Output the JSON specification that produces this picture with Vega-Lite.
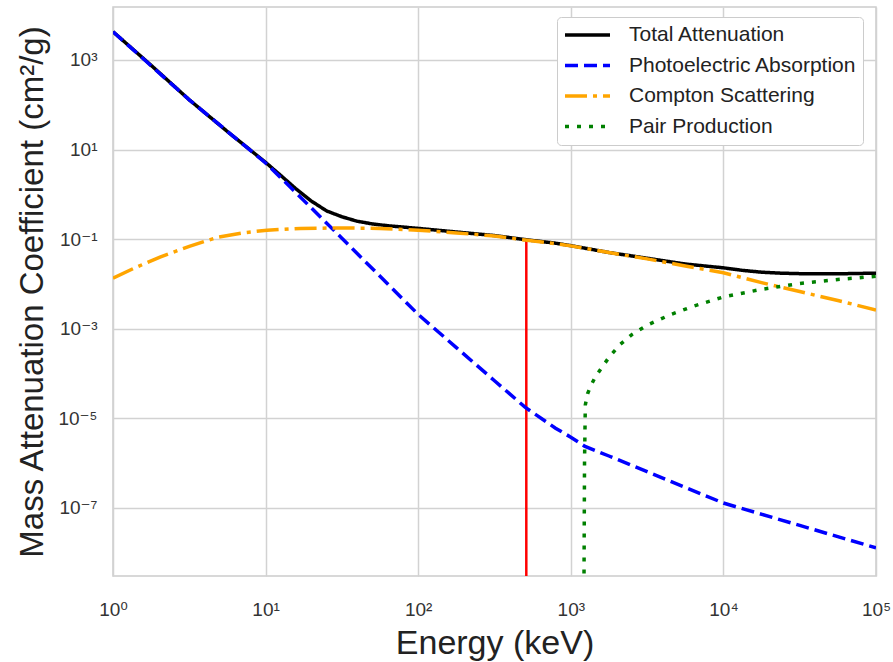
{
  "$schema": "https://vega.github.io/schema/vega-lite/v6.json",
  "autosize": {"type": "none"},
  "width": 763,
  "height": 569,
  "padding": {"left": 113, "top": 7, "right": 17, "bottom": 86},
  "background": "white",
  "config": {
    "font": "Liberation Sans, Arial, DejaVu Sans, sans-serif",
    "view": {"stroke": "#cccccc", "strokeWidth": 1.5},
    "axis": {
      "labelFont": "Liberation Sans, Arial, DejaVu Sans, sans-serif",
      "titleFont": "Liberation Sans, Arial, DejaVu Sans, sans-serif",
      "labelFontSize": 19,
      "labelColor": "#333333",
      "titleFontSize": 34,
      "titleFontWeight": "normal",
      "titleColor": "#222222",
      "grid": true,
      "gridColor": "#d2d2d2",
      "gridWidth": 1.5,
      "domain": false,
      "ticks": false,
      "tickSize": 0
    },
    "legend": {
      "orient": "none",
      "legendX": 444,
      "legendY": 10,
      "fillColor": "white",
      "strokeColor": "#cccccc",
      "cornerRadius": 4,
      "padding": 6,
      "labelFont": "Liberation Sans, Arial, DejaVu Sans, sans-serif",
      "labelFontSize": 21,
      "labelColor": "#222222",
      "symbolType": "stroke",
      "symbolStrokeWidth": 3.5,
      "symbolSize": 2025,
      "labelOffset": 17,
      "clipHeight": 24,
      "rowPadding": 6.5,
      "labelLimit": 400
    }
  },
  "datasets": {
    "curves": [
      {"s": "Total Attenuation", "E": 1, "mu": 4266},
      {"s": "Total Attenuation", "E": 1.778, "mu": 758.6},
      {"s": "Total Attenuation", "E": 3.162, "mu": 128.8},
      {"s": "Total Attenuation", "E": 5.623, "mu": 25.2},
      {"s": "Total Attenuation", "E": 10, "mu": 5.164},
      {"s": "Total Attenuation", "E": 12.59, "mu": 2.63},
      {"s": "Total Attenuation", "E": 15.85, "mu": 1.318},
      {"s": "Total Attenuation", "E": 19.95, "mu": 0.7079},
      {"s": "Total Attenuation", "E": 25.12, "mu": 0.4266},
      {"s": "Total Attenuation", "E": 31.62, "mu": 0.3162},
      {"s": "Total Attenuation", "E": 39.81, "mu": 0.2512},
      {"s": "Total Attenuation", "E": 50.12, "mu": 0.2188},
      {"s": "Total Attenuation", "E": 63.1, "mu": 0.1995},
      {"s": "Total Attenuation", "E": 79.43, "mu": 0.1862},
      {"s": "Total Attenuation", "E": 100, "mu": 0.1738},
      {"s": "Total Attenuation", "E": 177.8, "mu": 0.1445},
      {"s": "Total Attenuation", "E": 316.2, "mu": 0.1202},
      {"s": "Total Attenuation", "E": 501.2, "mu": 0.09772},
      {"s": "Total Attenuation", "E": 794.3, "mu": 0.08128},
      {"s": "Total Attenuation", "E": 1000, "mu": 0.07161},
      {"s": "Total Attenuation", "E": 1778, "mu": 0.05035},
      {"s": "Total Attenuation", "E": 3162, "mu": 0.0375},
      {"s": "Total Attenuation", "E": 5623, "mu": 0.02786},
      {"s": "Total Attenuation", "E": 10000, "mu": 0.02291},
      {"s": "Total Attenuation", "E": 13335, "mu": 0.0201},
      {"s": "Total Attenuation", "E": 17783, "mu": 0.01831},
      {"s": "Total Attenuation", "E": 23714, "mu": 0.01742},
      {"s": "Total Attenuation", "E": 31623, "mu": 0.01699},
      {"s": "Total Attenuation", "E": 56234, "mu": 0.01686},
      {"s": "Total Attenuation", "E": 100000, "mu": 0.01742},

      {"s": "Photoelectric Absorption", "E": 1, "mu": 4266},
      {"s": "Photoelectric Absorption", "E": 3.162, "mu": 128.8},
      {"s": "Photoelectric Absorption", "E": 10, "mu": 5.012},
      {"s": "Photoelectric Absorption", "E": 12.59, "mu": 2.344},
      {"s": "Photoelectric Absorption", "E": 31.62, "mu": 0.1047},
      {"s": "Photoelectric Absorption", "E": 100, "mu": 0.002089},
      {"s": "Photoelectric Absorption", "E": 177.8, "mu": 0.0003802},
      {"s": "Photoelectric Absorption", "E": 316.2, "mu": 6.918e-5},
      {"s": "Photoelectric Absorption", "E": 501.2, "mu": 1.778e-5},
      {"s": "Photoelectric Absorption", "E": 794.3, "mu": 6.026e-6},
      {"s": "Photoelectric Absorption", "E": 1000, "mu": 3.802e-6},
      {"s": "Photoelectric Absorption", "E": 1230, "mu": 2.399e-6},
      {"s": "Photoelectric Absorption", "E": 1778, "mu": 1.445e-6},
      {"s": "Photoelectric Absorption", "E": 3162, "mu": 6.457e-7},
      {"s": "Photoelectric Absorption", "E": 10000, "mu": 1.288e-7},
      {"s": "Photoelectric Absorption", "E": 31623, "mu": 4.074e-8},
      {"s": "Photoelectric Absorption", "E": 100000, "mu": 1.288e-8},

      {"s": "Compton Scattering", "E": 1, "mu": 0.01349},
      {"s": "Compton Scattering", "E": 1.413, "mu": 0.02344},
      {"s": "Compton Scattering", "E": 2.032, "mu": 0.03981},
      {"s": "Compton Scattering", "E": 3.162, "mu": 0.06918},
      {"s": "Compton Scattering", "E": 4.808, "mu": 0.1096},
      {"s": "Compton Scattering", "E": 7.079, "mu": 0.138},
      {"s": "Compton Scattering", "E": 10.23, "mu": 0.1585},
      {"s": "Compton Scattering", "E": 16.83, "mu": 0.1738},
      {"s": "Compton Scattering", "E": 31.62, "mu": 0.1778},
      {"s": "Compton Scattering", "E": 56.23, "mu": 0.1738},
      {"s": "Compton Scattering", "E": 100, "mu": 0.1585},
      {"s": "Compton Scattering", "E": 177.8, "mu": 0.138},
      {"s": "Compton Scattering", "E": 316.2, "mu": 0.1175},
      {"s": "Compton Scattering", "E": 501.2, "mu": 0.0955},
      {"s": "Compton Scattering", "E": 794.3, "mu": 0.07943},
      {"s": "Compton Scattering", "E": 1000, "mu": 0.07079},
      {"s": "Compton Scattering", "E": 1778, "mu": 0.05012},
      {"s": "Compton Scattering", "E": 3162, "mu": 0.03631},
      {"s": "Compton Scattering", "E": 5623, "mu": 0.02512},
      {"s": "Compton Scattering", "E": 10000, "mu": 0.01778},
      {"s": "Compton Scattering", "E": 17783, "mu": 0.01072},
      {"s": "Compton Scattering", "E": 31623, "mu": 0.006761},
      {"s": "Compton Scattering", "E": 56234, "mu": 0.004266},
      {"s": "Compton Scattering", "E": 100000, "mu": 0.00263},

      {"s": "Pair Production", "E": 1219, "mu": 1e-9},
      {"s": "Pair Production", "E": 1230, "mu": 1e-6},
      {"s": "Pair Production", "E": 1245, "mu": 1.995e-5},
      {"s": "Pair Production", "E": 1288, "mu": 3.548e-5},
      {"s": "Pair Production", "E": 1349, "mu": 5.248e-5},
      {"s": "Pair Production", "E": 1445, "mu": 8.318e-5},
      {"s": "Pair Production", "E": 1585, "mu": 0.0001318},
      {"s": "Pair Production", "E": 1778, "mu": 0.0002291},
      {"s": "Pair Production", "E": 2089, "mu": 0.0004365},
      {"s": "Pair Production", "E": 2512, "mu": 0.0007413},
      {"s": "Pair Production", "E": 3162, "mu": 0.001202},
      {"s": "Pair Production", "E": 4467, "mu": 0.002042},
      {"s": "Pair Production", "E": 6310, "mu": 0.003162},
      {"s": "Pair Production", "E": 10000, "mu": 0.005129},
      {"s": "Pair Production", "E": 17783, "mu": 0.007586},
      {"s": "Pair Production", "E": 31623, "mu": 0.01023},
      {"s": "Pair Production", "E": 56234, "mu": 0.01259},
      {"s": "Pair Production", "E": 100000, "mu": 0.01479}
    ],
    "marker": [
      {"E": 511, "top": 0.0955, "bottom": 3.03e-9}
    ]
  },
  "layer": [
    {
      "data": {"name": "marker"},
      "mark": {"type": "rule", "color": "#ff0000", "strokeWidth": 2.5, "clip": true},
      "encoding": {
        "x": {"field": "E", "type": "quantitative", "title": "Energy (keV)"},
        "y": {"field": "top", "type": "quantitative", "title": "Mass Attenuation Coefficient (cm²/g)"},
        "y2": {"field": "bottom"}
      }
    },
    {
      "data": {"name": "curves"},
      "mark": {"type": "line", "strokeWidth": 3.5, "clip": true},
      "encoding": {
        "x": {
          "field": "E",
          "type": "quantitative",
          "title": "Energy (keV)",
          "scale": {"type": "log", "domain": [1, 100000], "nice": false},
          "axis": {
            "values": [1, 10, 100, 1000, 10000, 100000],
            "labelExpr": "datum.value < 5 ? '10⁰' : datum.value < 50 ? '10¹' : datum.value < 500 ? '10²' : datum.value < 5000 ? '10³' : datum.value < 50000 ? '10⁴' : '10⁵'",
            "labelBaseline": "alphabetic",
            "labelPadding": 39,
            "labelFlush": false,
            "labelOverlap": false,
            "titleBaseline": "alphabetic",
            "titleY": 77
          }
        },
        "y": {
          "field": "mu",
          "type": "quantitative",
          "title": "Mass Attenuation Coefficient (cm²/g)",
          "scale": {"type": "log", "domain": [3.03e-9, 15200], "nice": false},
          "axis": {
            "values": [1e-7, 1e-5, 0.001, 0.1, 10, 1000],
            "labelExpr": "datum.value < 1e-6 ? '10⁻⁷' : datum.value < 1e-4 ? '10⁻⁵' : datum.value < 0.01 ? '10⁻³' : datum.value < 1 ? '10⁻¹' : datum.value < 100 ? '10¹' : '10³'",
            "labelPadding": 16,
            "labelOverlap": false,
            "titleFontSize": 33,
            "titleAngle": 270,
            "titleBaseline": "alphabetic",
            "titleAlign": "center",
            "titleX": -71,
            "titleY": 284.5
          }
        },
        "color": {
          "field": "s",
          "type": "nominal",
          "title": null,
          "scale": {
            "domain": ["Total Attenuation", "Photoelectric Absorption", "Compton Scattering", "Pair Production"],
            "range": ["#000000", "#0000ff", "#ffa500", "#008000"]
          },
          "legend": {"symbolType": "stroke"}
        },
        "strokeDash": {
          "field": "s",
          "type": "nominal",
          "title": null,
          "scale": {
            "domain": ["Total Attenuation", "Photoelectric Absorption", "Compton Scattering", "Pair Production"],
            "range": [[1, 0], [13, 6], [22, 6, 4, 6], [4, 8]]
          },
          "legend": {"symbolType": "stroke"}
        }
      }
    }
  ]
}
